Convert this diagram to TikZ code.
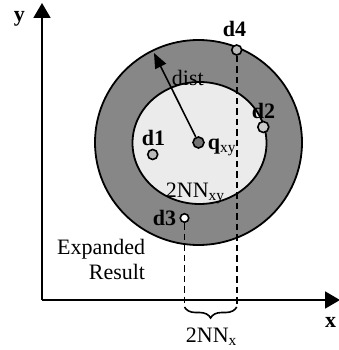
\documentclass[tikz,border=0pt]{standalone}
\usepackage{fontspec}
\setmainfont{Liberation Serif}
\usetikzlibrary{arrows.meta,decorations.pathreplacing}

\tikzset{
  datapt/.style={circle,draw=black,line width=1.6pt,inner sep=0pt,minimum size=#1},
  datapt/.default=10pt,
  lbl/.style={inner sep=0pt,anchor=base west},
  proj/.style={dash pattern=on 6.5pt off 4pt,line width=1.6pt}
}

\begin{document}
\begin{tikzpicture}[x=1pt,y=-1pt,>={Triangle[length=15pt,width=17pt]},
    font=\fontsize{22}{25}\selectfont,line width=1.8pt]
  \useasboundingbox (0,0) rectangle (338,350);
  \fill[black!47,draw=black] (198.5,142.5) circle[x radius=103.5,y radius=102.5];
  \fill[black!8,draw=black] (199.5,143) circle[x radius=67,y radius=61];
  \coordinate (o) at (42,300);
  \coordinate (ytip) at (42,3);
  \coordinate (xtip) at (340,300);
  \draw[->] (o) -- (ytip);
  \draw[->] (o) -- (xtip);
  \node[lbl] (ylab) at (13,22) {\textbf{y}};
  \node[inner sep=0pt,anchor=base east] (xlab) at (337,327) {\textbf{x}};
  \node[datapt=11pt,fill=black!55] (q) at (198.5,142.5) {};
  \node[datapt,fill=black!27] (d1) at (152.7,154.5) {};
  \node[datapt=11pt,fill=black!20] (d2) at (263.3,127) {};
  \node[datapt=8.5pt,fill=white] (d3) at (184.5,218) {};
  \node[datapt,fill=black!27] (d4) at (236.7,50) {};
  \coordinate (tip) at (154,53);
  \draw[->,>={Triangle[length=15pt,width=12pt]},line width=1.6pt] (q) -- (tip);
  \coordinate (b3) at (184.5,307);
  \coordinate (b4) at (236.7,307);
  \draw[proj] (d3) -- (b3);
  \draw[proj] (d4) -- (b4);
  \draw[decorate,decoration={brace,mirror,amplitude=11pt},line width=1.6pt] (b3) -- (b4);
  \node[lbl] (d1lab) at (141,145) {\textbf{d1}};
  \node[lbl] (d2lab) at (251,118) {\textbf{d2}};
  \node[lbl] (d3lab) at (152,225) {\textbf{d3}};
  \node[lbl] (d4lab) at (222,37) {\textbf{d4}};
  \node[lbl] (qlab) at (207,149) {\textbf{q}\textsubscript{xy}};
  \node[lbl] (distlab) at (171,86) {dist};
  \node[lbl] (nnxy) at (165,197) {2NN\textsubscript{xy}};
  \node[lbl] (nnx) at (185,342) {2NN\textsubscript{x}};
  \node[inner sep=0pt,anchor=base east,align=right] (exp) at (146,279) {Expanded\\Result};
\end{tikzpicture}
\end{document}
